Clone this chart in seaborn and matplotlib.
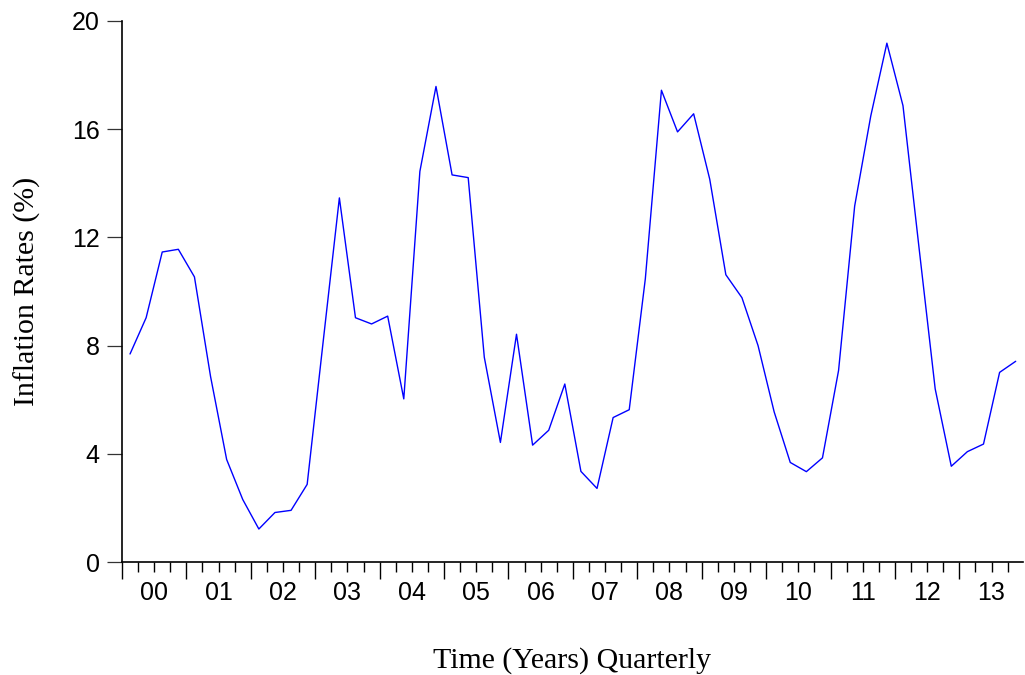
import numpy as np
import pandas as pd
import matplotlib
matplotlib.use("Agg")
import matplotlib.pyplot as plt
import seaborn as sns

# quarterly inflation 2000Q1 - 2013Q4
years = ["00", "01", "02", "03", "04", "05", "06", "07", "08", "09", "10", "11", "12", "13"]
inflation = [7.69, 9.03, 11.46, 11.56, 10.54, 6.86, 3.79, 2.31,
             1.22, 1.83, 1.91, 2.87, 8.18, 13.46, 9.03, 8.80,
             9.09, 6.03, 14.44, 17.58, 14.31, 14.21, 7.57, 4.42,
             8.42, 4.32, 4.87, 6.58, 3.35, 2.72, 5.34, 5.63,
             10.47, 17.44, 15.90, 16.57, 14.15, 10.62, 9.77, 8.00,
             5.55, 3.68, 3.34, 3.85, 7.08, 13.16, 16.49, 19.18,
             16.87, 11.60, 6.40, 3.54, 4.08, 4.36, 7.01, 7.42]
y_ticks = [0, 4, 8, 12, 16, 20]

df = pd.DataFrame({"t": np.arange(len(inflation)), "rate": inflation})

sns.set_style("ticks")
plt.rcParams["font.family"] = ["Liberation Sans", "DejaVu Sans"]
plt.rcParams["text.color"] = "black"
plt.rcParams["axes.labelcolor"] = "black"
plt.rcParams["xtick.color"] = "black"
plt.rcParams["ytick.color"] = "black"

fig = plt.figure(figsize=(10.25, 6.75), dpi=100)
ax = fig.add_axes([0.119, 0.1674, 0.879, 0.8015])
sns.lineplot(data=df, x="t", y="rate", ax=ax, color="#0000FF", linewidth=1.0)

n_years = len(years)
ax.set_xlim(-0.5, len(inflation) - 0.55)
ax.set_ylim(0, 20)
ax.set_yticks(y_ticks)
ax.set_yticklabels([str(v) for v in y_ticks], fontsize=18)

# year boundaries: long ticks, year labels in the middle (minor, no mark)
ax.set_xticks([4 * k - 0.5 for k in range(n_years)])
ax.set_xticklabels([])
ax.set_xticks([4 * k + 1.5 for k in range(n_years)], years, minor=True)
ax.tick_params(axis="x", which="major", direction="out", length=12, width=1.0, color="black")
ax.tick_params(axis="x", which="minor", length=0, pad=14, labelsize=18)
ax.tick_params(axis="y", direction="out", length=11, width=0.9, pad=5, color="#333333")

# quarter ticks (short)
sec = ax.secondary_xaxis(0)
sec.set_xticks([q - 0.5 for q in range(len(inflation)) if q % 4 != 0])
sec.set_xticklabels([])
sec.tick_params(axis="x", direction="out", length=7, width=1.0, color="black")
sec.spines["bottom"].set_visible(False)

for s in ["top", "right"]:
    ax.spines[s].set_visible(False)
for s in ["left", "bottom"]:
    ax.spines[s].set_linewidth(1.2)
    ax.spines[s].set_color("black")

ax.set_xlabel("Time (Years) Quarterly", family=["Liberation Serif", "DejaVu Serif"], fontsize=21.5, labelpad=30)
ax.set_ylabel("Inflation Rates (%)", family=["Liberation Serif", "DejaVu Serif"], fontsize=21.5, labelpad=22)

fig.savefig("out.png", dpi=100)
plt.close(fig)
